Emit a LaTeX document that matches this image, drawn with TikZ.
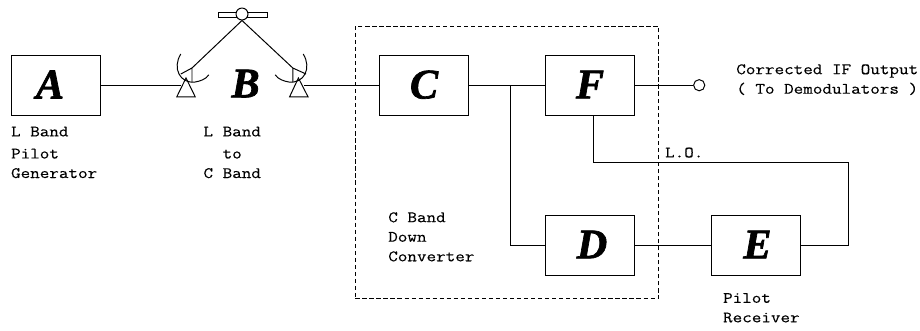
\documentclass[tikz,border=0pt]{standalone}
\usepackage{fontspec}
\setmainfont{Liberation Serif}
\newfontfamily\blockfont[BoldItalicFeatures={FakeBold=1.6}]{Liberation Serif}
\newfontfamily\labelfont[FakeStretch=1.17,FakeBold=0.25]{Latin Modern Mono}
\usetikzlibrary{positioning,fit}

\newcommand{\blockname}[1]{\raisebox{1pt}{#1}}

\tikzset{
    wire/.style={line width=0.7pt},
    blockbox/.style={draw, line width=0.7pt, minimum width=2.225cm, minimum height=1.5cm, inner sep=0pt,
        font=\blockfont\fontsize{30}{30}\selectfont\bfseries\itshape},
    caption/.style={anchor=north west, inner sep=0pt, align=left,
        font=\labelfont\fontsize{11.3}{13.9}\selectfont}
}

\begin{document}
\begin{tikzpicture}
    \useasboundingbox (0,0) rectangle (23,-8.25);

    % Blocks
    \node[blockbox] (block_a) at (1.39,-2.13) {\blockname{A}\kern0.28cm};
    \node[blockbox] (block_c) at (10.6,-2.13) {\blockname{C}};
    \node[blockbox] (block_f) at (14.75,-2.13) {\blockname{F}};
    \node[blockbox] (block_d) at (14.75,-6.13) {\hspace{0.1cm}\blockname{D}};
    \node[blockbox] (block_e) at (18.91,-6.13) {\hspace{0.05cm}\blockname{E}};
    \node[font=\blockfont\fontsize{30}{30}\selectfont\bfseries\itshape, inner sep=0pt] (block_b) at (6.14,-2.09) {B};

    % Converter outline
    \node[draw, densely dashed, line width=0.6pt, minimum width=7.575cm, minimum height=6.82cm, inner sep=0pt] (converter_box) at (12.67,-4.06) {};

    % Satellite
    \draw[wire] (5.45,-0.3) rectangle (6.68,-0.43);
    \node[draw, fill=white, circle, line width=0.7pt, minimum size=0.3cm, inner sep=0pt] (sat) at (6.05,-0.35) {};

    % Left earth station
    \coordinate (feed_left) at (4.8,-1.7);
    \coordinate (feed_right) at (7.32,-1.7);
    \draw[wire] (sat.south) -- (feed_left);
    \draw[wire] (sat.south) -- (feed_right);
    \draw[wire] (4.52,-1.35) .. controls (4.3,-1.7) and (4.5,-2.1) .. (4.88,-2.05) .. controls (5.0,-2.03) and (5.15,-1.98) .. (5.22,-1.87);
    \draw[wire] (4.52,-1.85) -- (feed_left) -- (4.8,-2.05);
    \draw[wire] (4.65,-1.95) -- (4.42,-2.42) -- (4.88,-2.42) -- cycle;

    % Right earth station
    \draw[wire] (7.58,-1.35) .. controls (7.8,-1.7) and (7.6,-2.1) .. (7.22,-2.05) .. controls (7.1,-2.03) and (6.95,-1.98) .. (6.88,-1.87);
    \draw[wire] (7.65,-1.85) -- (feed_right) -- (7.32,-2.05);
    \draw[wire] (7.46,-1.95) -- (7.24,-2.42) -- (7.7,-2.42) -- cycle;

    % Connections
    \coordinate (dish_left) at (4.52,-2.13);
    \coordinate (dish_right) at (7.6,-2.13);
    \coordinate (tap) at (12.75,-2.13);
    \draw[wire] (block_a) -- (dish_left);
    \draw[wire] (dish_right) -- (block_c);
    \draw[wire] (block_c) -- (block_f);
    \draw[wire] (tap) |- (block_d);
    \draw[wire] (block_d) -- (block_e);
    \node[draw, circle, line width=0.7pt, minimum size=0.28cm, inner sep=0pt] (output) at (17.48,-2.13) {};
    \draw[wire] (block_f) -- (output);

    % L.O. feedback
    \coordinate (lo_right) at (21.2,-4.07);
    \coordinate (lo_left) at (14.83,-4.07);
    \draw[wire] (lo_left |- block_f.south) -- (lo_left) -- (lo_right) |- (block_e);

    % Labels
    \node[caption] (a_text) at (0.27,-3.16) {L Band\\[1.8pt]Pilot\\Generator};
    \node[caption] (b_text) at (5.08,-3.16) {L Band\\[1.8pt]\ \ to\\C Band};
    \node[caption] (c_text) at (9.7,-5.3) {C Band\\Down\\Converter};
    \node[caption] (e_text) at (18.07,-7.32) {Pilot\\Receiver};
    \node[caption] (out_text) at (18.4,-1.6) {Corrected IF Output\\( To Demodulators )};
    \node[caption] (lo_text) at (16.62,-3.68) {L.O.};
\end{tikzpicture}
\end{document}
